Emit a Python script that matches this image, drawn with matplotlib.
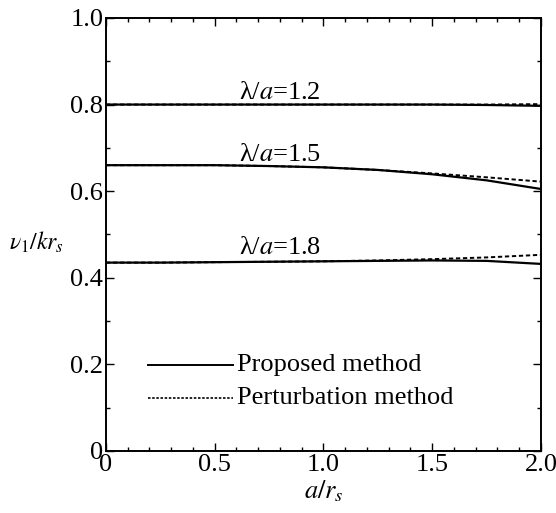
import matplotlib
matplotlib.use("Agg")
import matplotlib.pyplot as plt
from matplotlib.ticker import MultipleLocator, FixedLocator

plt.rcParams["font.family"] = ["Liberation Serif", "DejaVu Serif"]
plt.rcParams["mathtext.fontset"] = "stix"

# a/r_s sample points
a_rs = [0.0, 0.25, 0.5, 0.75, 1.0, 1.25, 1.5, 1.75, 2.0]

# proposed method (solid)
prop_12 = [0.800, 0.800, 0.800, 0.800, 0.800, 0.800, 0.800, 0.799, 0.797]
prop_15 = [0.660, 0.660, 0.660, 0.658, 0.655, 0.649, 0.639, 0.625, 0.605]
prop_18 = [0.435, 0.435, 0.436, 0.437, 0.438, 0.439, 0.440, 0.439, 0.432]

# perturbation method (dashed)
pert_12 = [0.800, 0.800, 0.800, 0.800, 0.800, 0.800, 0.800, 0.800, 0.801]
pert_15 = [0.660, 0.660, 0.660, 0.658, 0.655, 0.649, 0.641, 0.632, 0.622]
pert_18 = [0.435, 0.435, 0.436, 0.437, 0.438, 0.440, 0.443, 0.447, 0.453]

curve_labels = ["λ/$a$=1.2", "λ/$a$=1.5", "λ/$a$=1.8"]
label_y = [0.826, 0.683, 0.468]

fig = plt.figure(figsize=(5.56, 5.13), dpi=100)
ax = fig.add_axes([0.1906, 0.1209, 0.7824, 0.8441])

dash = (0, (2.2, 1.4))
for sol, dsh in [(prop_12, pert_12), (prop_15, pert_15), (prop_18, pert_18)]:
    ax.plot(a_rs, dsh, color="black", lw=1.4, linestyle=dash)
    ax.plot(a_rs, sol, color="black", lw=1.6)

for txt, yy in zip(curve_labels, label_y):
    ax.text(0.611, yy, txt, fontsize=19, ha="left", va="center")

# legend drawn by hand like the original
ax.plot([0.193, 0.584], [0.199, 0.199], color="black", lw=1.4)
ax.text(0.602, 0.199, "Proposed method", fontsize=19, va="center")
ax.plot([0.193, 0.584], [0.123, 0.123], color="black", lw=1.2, linestyle=(0, (1.5, 1)))
ax.text(0.602, 0.123, "Perturbation method", fontsize=19, va="center")

ax.set_xlim(0, 2.0)
ax.set_ylim(0, 1.0)
ax.xaxis.set_major_locator(FixedLocator([0, 0.5, 1.0, 1.5, 2.0]))
ax.set_xticklabels(["0", "0.5", "1.0", "1.5", "2.0"])
ax.xaxis.set_minor_locator(MultipleLocator(0.1))
ax.yaxis.set_major_locator(FixedLocator([0, 0.2, 0.4, 0.6, 0.8, 1.0]))
ax.set_yticklabels(["0", "0.2", "0.4", "0.6", "0.8", "1.0"])
ax.yaxis.set_minor_locator(MultipleLocator(0.1))
ax.tick_params(which="both", direction="in", top=True, right=True, labelsize=19, width=1)
ax.tick_params(which="major", length=6, pad=2)
ax.tick_params(which="minor", length=3)
for s in ax.spines.values():
    s.set_linewidth(1.4)

ax.set_xlabel(r"$a/r_s$", fontsize=19, labelpad=2)
ax.set_ylabel(r"$\nu_1/kr_s$", fontsize=17, rotation=0, ha="center", va="center")
ax.yaxis.set_label_coords(-0.159, 0.481)

fig.savefig("out.png", dpi=100)
